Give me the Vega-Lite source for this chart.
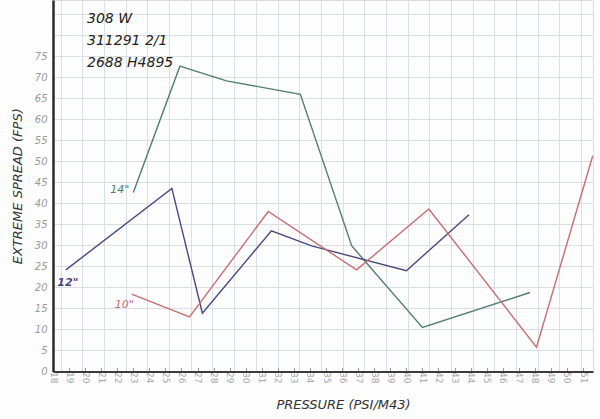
{
  "$schema": "https://vega.github.io/schema/vega-lite/v6.json",
  "width": 540,
  "height": 371.5,
  "autosize": "none",
  "padding": {"left": 53, "top": 0, "right": 7, "bottom": 47.5},
  "background": "#fdfdfd",
  "title": {
    "text": ["308 W", "311291 2/1", "2688 H4895"],
    "anchor": "start",
    "frame": "group",
    "orient": "top",
    "baseline": "top",
    "offset": -10,
    "dx": 34,
    "dy": 60,
    "font": "DejaVu Sans",
    "fontSize": 14,
    "fontWeight": "normal",
    "fontStyle": "italic",
    "lineHeight": 22,
    "color": "#222"
  },
  "data": {
    "values": [
      {"series": "14\"", "pressure": 23.0, "spread": 42.6},
      {"series": "14\"", "pressure": 25.9, "spread": 72.7},
      {"series": "14\"", "pressure": 28.8, "spread": 69.2},
      {"series": "14\"", "pressure": 33.4, "spread": 66.0},
      {"series": "14\"", "pressure": 36.6, "spread": 29.9},
      {"series": "14\"", "pressure": 41.0, "spread": 10.5},
      {"series": "14\"", "pressure": 47.7, "spread": 18.8},
      {"series": "12\"", "pressure": 18.8, "spread": 24.2},
      {"series": "12\"", "pressure": 25.4, "spread": 43.6},
      {"series": "12\"", "pressure": 27.3, "spread": 13.9},
      {"series": "12\"", "pressure": 31.6, "spread": 33.5},
      {"series": "12\"", "pressure": 34.1, "spread": 29.9},
      {"series": "12\"", "pressure": 40.0, "spread": 24.0},
      {"series": "12\"", "pressure": 43.9, "spread": 37.3},
      {"series": "10\"", "pressure": 22.9, "spread": 18.4},
      {"series": "10\"", "pressure": 26.5, "spread": 13.0},
      {"series": "10\"", "pressure": 31.4, "spread": 38.1},
      {"series": "10\"", "pressure": 36.9, "spread": 24.2},
      {"series": "10\"", "pressure": 41.4, "spread": 38.7},
      {"series": "10\"", "pressure": 48.1, "spread": 5.8},
      {"series": "10\"", "pressure": 51.6, "spread": 51.3}
    ]
  },
  "resolve": {"scale": {"x": "independent"}},
  "encoding": {
    "y": {
      "field": "spread",
      "type": "quantitative",
      "scale": {"domain": [0, 88.45], "nice": false},
      "axis": {
        "values": [0, 5, 10, 15, 20, 25, 30, 35, 40, 45, 50, 55, 60, 65, 70, 75, 80, 85],
        "labelExpr": "datum.value > 75 ? '' : datum.label",
        "labelOverlap": false,
        "grid": true,
        "gridColor": "#d9dfe3",
        "gridWidth": 1,
        "ticks": false,
        "domainColor": "#2b2b2b",
        "domainWidth": 2.5,
        "labelColor": "#9a9a9a",
        "labelFont": "DejaVu Sans",
        "labelFontSize": 10,
        "labelFontStyle": "italic",
        "labelPadding": 6,
        "title": "EXTREME SPREAD (FPS)",
        "titleFont": "DejaVu Sans",
        "titleFontSize": 13,
        "titleFontWeight": "normal",
        "titleFontStyle": "italic",
        "titleColor": "#333",
        "titlePadding": 10
      }
    },
    "color": {
      "field": "series",
      "type": "nominal",
      "scale": {"domain": ["14\"", "12\"", "10\""], "range": ["#4f806d", "#4a4880", "#c46f72"]},
      "legend": null
    }
  },
  "layer": [
    {
      "mark": {"type": "line", "strokeWidth": 1.4, "clip": false},
      "encoding": {
        "x": {
          "field": "pressure",
          "type": "quantitative",
          "scale": {"domain": [18, 51.62], "nice": false, "zero": false},
          "axis": {
            "orient": "bottom",
            "values": [18, 19, 20, 21, 22, 23, 24, 25, 26, 27, 28, 29, 30, 31, 32, 33, 34, 35, 36, 37, 38, 39, 40, 41, 42, 43, 44, 45, 46, 47, 48, 49, 50, 51],
            "grid": false,
            "labelAngle": 90,
            "labelOverlap": false,
            "labelColor": "#a5a5a5",
            "labelFont": "DejaVu Sans",
            "labelFontSize": 9,
            "labelPadding": 4,
            "tickColor": "#999",
            "tickSize": -4,
            "domainColor": "#3a3a3a",
            "domainWidth": 2,
            "title": "PRESSURE   (PSI/M43)",
            "titleFont": "DejaVu Sans",
            "titleFontSize": 13,
            "titleFontWeight": "normal",
            "titleFontStyle": "italic",
            "titleColor": "#333",
            "titleX": 290,
            "titlePadding": 16
          }
        },
        "order": {"field": "pressure", "type": "quantitative"}
      }
    },
    {
      "transform": [
        {"window": [{"op": "rank", "as": "r"}], "sort": [{"field": "pressure"}], "groupby": ["series"]},
        {"filter": "datum.r === 1 && datum.series === '14\"'"}
      ],
      "mark": {"type": "text", "align": "right", "dx": -4, "dy": -3, "fontSize": 11, "font": "DejaVu Sans", "fontStyle": "italic"},
      "encoding": {
        "x": {
          "field": "pressure",
          "type": "quantitative",
          "scale": {"domain": [18, 51.62], "nice": false, "zero": false},
          "axis": {
            "orient": "top",
            "values": [18.48, 19.83, 21.18, 22.53, 23.88, 25.23, 26.58, 27.93, 29.28, 30.63, 31.98, 33.33, 34.68, 36.03, 37.38, 38.73, 40.08, 41.43, 42.78, 44.13, 45.48, 46.83, 48.18, 49.53, 50.88],
            "grid": true,
            "gridColor": "#d9dfe3",
            "gridWidth": 1,
            "labels": false,
            "ticks": false,
            "domain": false,
            "title": null
          }
        },
        "text": {"field": "series"}
      }
    },
    {
      "transform": [
        {"window": [{"op": "rank", "as": "r"}], "sort": [{"field": "pressure"}], "groupby": ["series"]},
        {"filter": "datum.r === 1 && datum.series === '12\"'"}
      ],
      "mark": {"type": "text", "align": "center", "dx": 2, "dy": 13, "fontSize": 11, "font": "DejaVu Sans", "fontStyle": "italic", "fontWeight": "bold"},
      "encoding": {
        "x": {
          "field": "pressure",
          "type": "quantitative",
          "scale": {"domain": [18, 51.62], "nice": false, "zero": false},
          "axis": null
        },
        "text": {"field": "series"}
      }
    },
    {
      "transform": [
        {"window": [{"op": "rank", "as": "r"}], "sort": [{"field": "pressure"}], "groupby": ["series"]},
        {"filter": "datum.r === 1 && datum.series === '10\"'"}
      ],
      "mark": {"type": "text", "align": "right", "dx": 2, "dy": 11, "fontSize": 11, "font": "DejaVu Sans", "fontStyle": "italic"},
      "encoding": {
        "x": {
          "field": "pressure",
          "type": "quantitative",
          "scale": {"domain": [18, 51.62], "nice": false, "zero": false},
          "axis": null
        },
        "text": {"field": "series"}
      }
    }
  ]
}
